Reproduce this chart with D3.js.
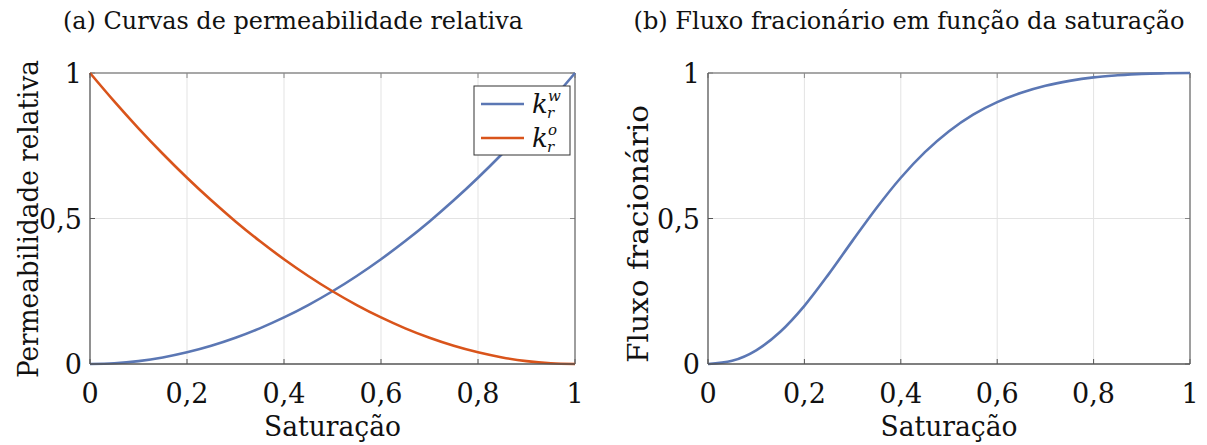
<!DOCTYPE html>
<html><head><meta charset="utf-8">
<script src="https://cdn.jsdelivr.net/npm/d3@7"></script>
<style>
body{margin:0;background:#fff}
svg text{fill:#111;font-family:"DejaVu Serif"}
</style>
</head><body>
<svg id="c" width="1207" height="445"></svg>
<script>
const saturation = [0,0.05,0.1,0.15,0.2,0.25,0.3,0.35,0.4,0.45,0.5,0.55,0.6,0.65,0.7,0.75,0.8,0.85,0.9,0.95,1];
const krw = [0,0.0025,0.01,0.0225,0.04,0.0625,0.09,0.1225,0.16,0.2025,0.25,0.3025,0.36,0.4225,0.49,0.5625,0.64,0.7225,0.81,0.9025,1];
const kro = [1,0.9025,0.81,0.7225,0.64,0.5625,0.49,0.4225,0.36,0.3025,0.25,0.2025,0.16,0.1225,0.09,0.0625,0.04,0.0225,0.01,0.0025,0];
const fw  = [0,0.011,0.047,0.111,0.2,0.308,0.424,0.537,0.64,0.728,0.8,0.857,0.9,0.932,0.956,0.973,0.985,0.992,0.997,0.999,1];
const xTicks = [0,0.2,0.4,0.6,0.8,1];
const xTickLabels = ["0","0,2","0,4","0,6","0,8","1"];
const yTicks = [0,0.5,1];
const yTickLabels = ["0","0,5","1"];
const titles = ["(a) Curvas de permeabilidade relativa","(b) Fluxo fracionário em função da saturação"];
const yLabels = ["Permeabilidade relativa","Fluxo fracionário"];
const xLabel = "Saturação";

const BLUE="#5b77b4", ORANGE="#d9541b";
const svg=d3.select("#c");

function fit(t,w){
  t.attr("textLength",w).attr("lengthAdjust","spacingAndGlyphs");
}

function panel(x0,x1,y0,y1,idx,series,ylab,title,legend){
  const x=d3.scaleLinear().domain([0,1]).range([x0,x1]);
  const y=d3.scaleLinear().domain([0,1]).range([y1,y0]);
  const g=svg.append("g");
  g.selectAll(".gx").data(xTicks.slice(1,-1)).join("line")
    .attr("x1",d=>x(d)).attr("x2",d=>x(d)).attr("y1",y0).attr("y2",y1)
    .attr("stroke","#e3e3e3").attr("stroke-width",1);
  g.selectAll(".gy").data(yTicks.slice(1,-1)).join("line")
    .attr("y1",d=>y(d)).attr("y2",d=>y(d)).attr("x1",x0).attr("x2",x1)
    .attr("stroke","#e3e3e3").attr("stroke-width",1);
  xTicks.forEach(t=>{
    g.append("line").attr("x1",x(t)).attr("x2",x(t)).attr("y1",y1).attr("y2",y1-5).attr("stroke","#555");
    g.append("line").attr("x1",x(t)).attr("x2",x(t)).attr("y1",y0).attr("y2",y0+5).attr("stroke","#888");
  });
  yTicks.forEach(t=>{
    g.append("line").attr("y1",y(t)).attr("y2",y(t)).attr("x1",x0).attr("x2",x0+5).attr("stroke","#555");
    g.append("line").attr("y1",y(t)).attr("y2",y(t)).attr("x1",x1).attr("x2",x1-5).attr("stroke","#888");
  });
  g.append("line").attr("x1",x0).attr("x2",x1).attr("y1",y0).attr("y2",y0).attr("stroke","#8a8a8a").attr("stroke-width",1.3);
  g.append("line").attr("x1",x1).attr("x2",x1).attr("y1",y0).attr("y2",y1).attr("stroke","#6a6a6a").attr("stroke-width",1.3);
  const line=d3.line().x((d,i)=>x(saturation[i])).y(d=>y(d)).curve(d3.curveMonotoneX);
  series.forEach(s=>{
    g.append("path").attr("d",line(s.values)).attr("fill","none").attr("stroke",s.color).attr("stroke-width",2.6);
  });
  g.append("line").attr("x1",x0).attr("x2",x0).attr("y1",y0).attr("y2",y1).attr("stroke","#555").attr("stroke-width",1.3);
  g.append("line").attr("x1",x0).attr("x2",x1).attr("y1",y1).attr("y2",y1).attr("stroke","#555").attr("stroke-width",1.3);
  g.selectAll(".xl").data(xTicks).join("text")
    .attr("x",d=>x(d)).attr("y",y1+39).attr("text-anchor","middle")
    .attr("font-size",27)
    .text((d,i)=>xTickLabels[i]);
  g.selectAll(".yl").data(yTicks).join("text")
    .attr("x",x0-8).attr("y",d=>y(d)+10).attr("text-anchor","end")
    .attr("font-size",27)
    .text((d,i)=>yTickLabels[i]);
  const xl=g.append("text").attr("x",(x0+x1)/2).attr("y",y1+72).attr("text-anchor","middle")
    .attr("font-size",28).text(xLabel);
  fit(xl,137);
  const yl=g.append("text").attr("transform",`translate(${ylab.x},${ylab.c}) rotate(-90)`)
    .attr("text-anchor","middle").attr("font-size",28).text(yLabels[idx]);
  fit(yl,ylab.w);
  const tt=g.append("text").attr("x",title.x).attr("y",29).attr("text-anchor","middle")
    .attr("font-size",25).text(titles[idx]);
  fit(tt,title.w);
  if(legend){
    const lx=474, ly=86, lw=96, lh=69;
    g.append("rect").attr("x",lx).attr("y",ly).attr("width",lw).attr("height",lh).attr("fill","#fff").attr("stroke","#333").attr("stroke-width",1);
    legend.forEach((s,i)=>{
      const yy=ly+18+i*34;
      g.append("line").attr("x1",lx+7).attr("x2",lx+50).attr("y1",yy).attr("y2",yy).attr("stroke",s.color).attr("stroke-width",2.6);
      g.append("text").attr("x",lx+58).attr("y",yy+9).attr("font-style","italic").attr("font-size",26).text("k");
      g.append("text").attr("x",lx+74).attr("y",yy-3).attr("font-style","italic").attr("font-size",15).text(s.sup);
      g.append("text").attr("x",lx+73).attr("y",yy+14).attr("font-style","italic").attr("font-size",15).text("r");
    });
  }
}
const s1=[{values:krw,color:BLUE,sup:"w"},{values:kro,color:ORANGE,sup:"o"}];
panel(90,575,73,364,0,s1,{x:38,c:219,w:318},{x:293,w:460},s1);
panel(708,1190,73,364,1,[{values:fw,color:BLUE}],{x:648,c:234,w:258},{x:909,w:551},null);
</script>
</body></html>
